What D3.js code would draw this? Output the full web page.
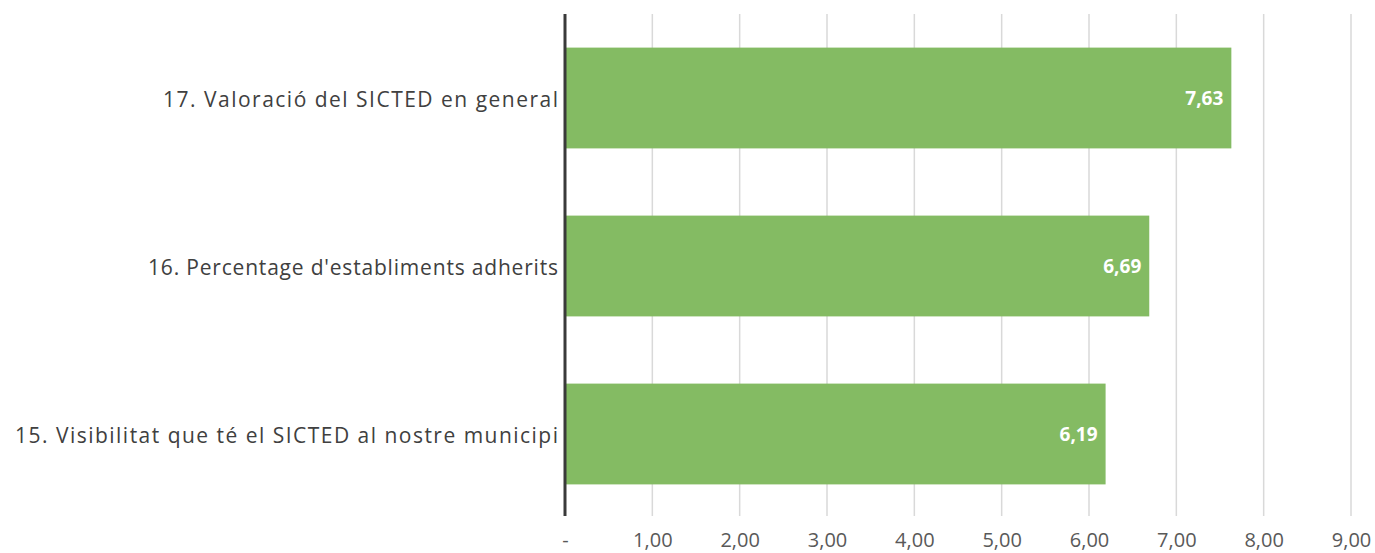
<!DOCTYPE html>
<html><head><meta charset="utf-8">
<script src="https://cdn.jsdelivr.net/npm/d3@7"></script>
<style>body{margin:0;background:#fff}svg{display:block}</style>
</head><body>
<svg id="c" width="1375" height="553"></svg>
<script>
const categories = ["17. Valoració del SICTED en general", "16. Percentage d'establiments adherits", "15. Visibilitat que té el SICTED al nostre municipi"];
const values = [7.63, 6.69, 6.19];
const ticks = [0, 1, 2, 3, 4, 5, 6, 7, 8, 9];
const tickLabels = ["-", "1,00", "2,00", "3,00", "4,00", "5,00", "6,00", "7,00", "8,00", "9,00"];
const valueLabels = ["7,63", "6,69", "6,19"];

const svg = d3.select("#c");
const x = d3.scaleLinear().domain([0, 9]).range([565, 1351]);
const y = d3.scaleBand().domain(categories).range([14, 518]).paddingInner(0.4).paddingOuter(0.2);

// gridlines
svg.append("g").selectAll("line").data(ticks.slice(1)).join("line")
  .attr("x1", d => x(d)).attr("x2", d => x(d))
  .attr("y1", 14).attr("y2", 516)
  .attr("stroke", "#d9d9d9").attr("stroke-width", 1.5);

// bars
svg.append("g").selectAll("rect").data(values).join("rect")
  .attr("x", x(0)).attr("y", (d, i) => y(categories[i]))
  .attr("width", d => x(d) - x(0)).attr("height", y.bandwidth())
  .attr("fill", "#84bb63");

// value labels
svg.append("g").selectAll("text").data(values).join("text")
  .attr("x", d => x(d) - 8).attr("y", (d, i) => y(categories[i]) + y.bandwidth() / 2)
  .attr("dy", "0.36em").attr("text-anchor", "end")
  .attr("fill", "#ffffff").attr("font-weight", "bold")
  .attr("font-family", "'Open Sans', sans-serif").attr("font-size", 19)
  .text((d, i) => valueLabels[i]);

// axis line
svg.append("line").attr("x1", x(0)).attr("x2", x(0)).attr("y1", 14).attr("y2", 516)
  .attr("stroke", "#3a3a3a").attr("stroke-width", 3);

// x tick labels
const xAxis = d3.axisBottom(x).tickValues(ticks).tickFormat((d, i) => tickLabels[i]).tickSize(0).tickPadding(0);
const gx = svg.append("g").attr("transform", "translate(0,532)").call(xAxis);
gx.select(".domain").remove();
gx.selectAll("text").attr("font-family", "'Open Sans', sans-serif").attr("font-size", 20).attr("fill", "#595959")
  .attr("dy", null).attr("y", 15);

// category labels
const yAxis = d3.axisLeft(y).tickSize(0).tickPadding(0);
const gy = svg.append("g").attr("transform", "translate(558,0)").call(yAxis);
gy.select(".domain").remove();
const widths = [395, 410, 543];
gy.selectAll("text").attr("font-family", "'Open Sans', sans-serif").attr("font-size", 21).attr("fill", "#404040")
  .attr("dy", "0.45em")
  .attr("textLength", (d, i) => widths[i]).attr("lengthAdjust", "spacing");
</script>
</body></html>
